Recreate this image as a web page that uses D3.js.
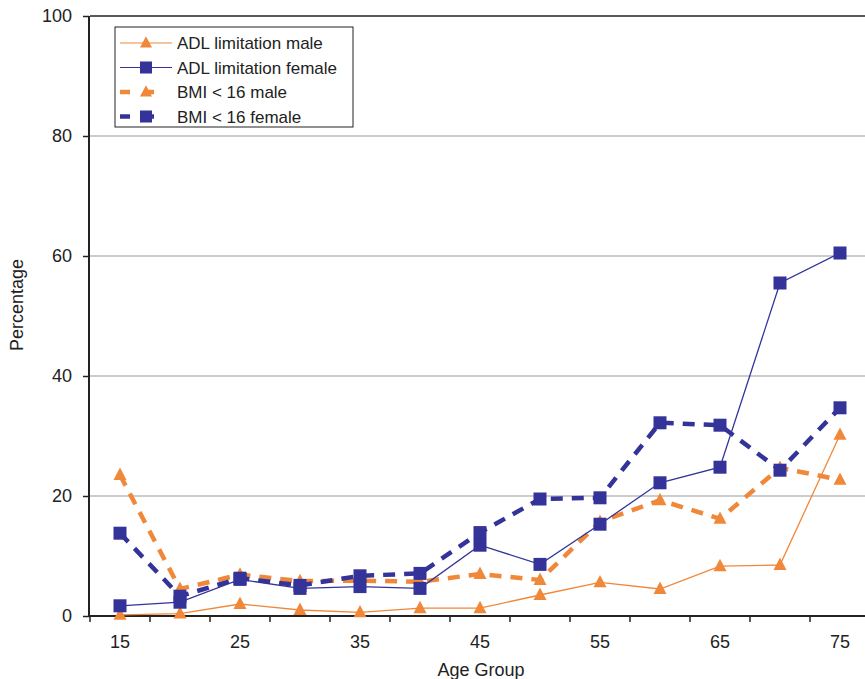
<!DOCTYPE html>
<html><head><meta charset="utf-8">
<script src="https://cdn.jsdelivr.net/npm/d3@7"></script>
<style>body{margin:0;background:#fff}svg{display:block;font-family:"Liberation Sans",Arial,sans-serif}</style>
</head><body><svg id="c" width="865" height="679"></svg>
<script>
const ages = [15,20,25,30,35,40,45,50,55,60,65,70,75];
const xTickLabels = [15,25,35,45,55,65,75];
const yTicks = [0,20,40,60,80,100];
const adlMale   = [0.2,0.4,2.0,1.0,0.6,1.3,1.3,3.5,5.6,4.5,8.3,8.5,30.2];
const adlFemale = [1.7,2.3,6.1,4.6,4.9,4.6,11.8,8.6,15.3,22.2,24.8,55.5,60.5];
const bmiMale   = [23.5,4.5,6.9,5.8,5.9,5.7,7.0,6.0,15.7,19.3,16.2,24.7,22.7];
const bmiFemale = [13.8,3.3,6.3,5.1,6.7,7.1,13.9,19.5,19.7,32.2,31.8,24.3,34.7];
const seriesNames = ["ADL limitation male","ADL limitation female","BMI < 16 male","BMI < 16 female"];

const ORANGE = "#F0883A", BLUE = "#333399";
const series = [
  {name:seriesNames[0], values:adlMale, color:ORANGE, dashed:false, marker:"tri"},
  {name:seriesNames[1], values:adlFemale, color:BLUE, dashed:false, marker:"sq"},
  {name:seriesNames[2], values:bmiMale, color:ORANGE, dashed:true, marker:"tri"},
  {name:seriesNames[3], values:bmiFemale, color:BLUE, dashed:true, marker:"sq"}
];

const svg = d3.select("#c");
const L = 90, R = 870, T = 16, B = 616;
const x = d3.scaleBand().domain(ages).range([L, R]);
const y = d3.scaleLinear().domain([0,100]).range([B, T]);
const cx = a => x(a) + x.bandwidth()/2;

// gridlines
svg.append("g").selectAll("line").data(yTicks.filter(t=>t>0 && t<100)).join("line")
  .attr("x1", L).attr("x2", R).attr("y1", d=>y(d)).attr("y2", d=>y(d))
  .attr("stroke", "#9a9a9a").attr("stroke-width", 1.2);
// top border
svg.append("line").attr("x1", L).attr("x2", R).attr("y1", y(100)).attr("y2", y(100))
  .attr("stroke", "#222").attr("stroke-width", 1.5);

// y axis
const yAx = svg.append("g").attr("transform", `translate(${L-1},0)`)
  .call(d3.axisLeft(y).tickValues(yTicks).tickSize(6).tickPadding(11));
yAx.select(".domain").attr("stroke", "#222").attr("stroke-width", 2).attr("d", `M-0,${T}V${B}`);
yAx.selectAll(".tick line").attr("stroke", "#222").attr("stroke-width", 1.5);
yAx.selectAll("text").attr("font-size", 18).attr("fill", "#222").attr("font-family", "Liberation Sans, Arial, sans-serif");

// x axis
const xAx = svg.append("g").attr("transform", `translate(0,${B})`);
xAx.append("line").attr("x1", L-2).attr("x2", R).attr("stroke", "#222").attr("stroke-width", 2);
const bounds = ages.map(a => x(a)).concat([R]);
xAx.selectAll("line.t").data(bounds).join("line").attr("class","t")
  .attr("x1", d=>d).attr("x2", d=>d).attr("y1", 0).attr("y2", 6)
  .attr("stroke", "#222").attr("stroke-width", 1.5);
xAx.selectAll("text").data(xTickLabels).join("text")
  .attr("x", d=>cx(d)).attr("y", 32).attr("text-anchor", "middle")
  .attr("font-size", 18).attr("fill", "#222").text(d=>d);

// axis titles
svg.append("text").attr("x", 481).attr("y", 676).attr("text-anchor","middle")
  .attr("font-size", 18).attr("fill", "#222").text("Age Group");
svg.append("text").attr("transform", "translate(23,305) rotate(-90)").attr("text-anchor","middle")
  .attr("font-size", 18).attr("fill", "#222").text("Percentage");

// lines
const line = d3.line().x((d,i)=>cx(ages[i])).y(d=>y(d));
function drawMarker(g, type, px, py, color, s) {
  if (type === "sq") {
    g.append("rect").attr("x", px - s/2).attr("y", py - s/2).attr("width", s).attr("height", s).attr("fill", color);
  } else {
    const h = s * 0.95;
    g.append("path").attr("d", `M${px},${py - h*0.6}L${px + s/2},${py + h*0.4}L${px - s/2},${py + h*0.4}Z`).attr("fill", color);
  }
}
const order = [2,3,0,1];
order.forEach(k => {
  const s = series[k];
  const g = svg.append("g");
  g.append("path").datum(s.values).attr("d", line).attr("fill","none")
    .attr("stroke", s.color).attr("stroke-width", s.dashed ? 4.5 : 1.3)
    .attr("stroke-dasharray", s.dashed ? "12,9" : null);
  s.values.forEach((v,i) => drawMarker(g, s.marker, cx(ages[i]), y(v), s.color, 13));
});

// legend
const lg = svg.append("g");
lg.append("rect").attr("x", 115).attr("y", 27).attr("width", 238).attr("height", 100)
  .attr("fill", "#fff").attr("stroke", "#222").attr("stroke-width", 1);
series.forEach((s,i) => {
  const ry = 43 + i*24.5;
  if (s.dashed) {
    lg.append("line").attr("x1", 120).attr("x2", 159).attr("y1", ry).attr("y2", ry)
      .attr("stroke", s.color).attr("stroke-width", 4.5).attr("stroke-dasharray", "10,14");
  } else {
    lg.append("line").attr("x1", 120).attr("x2", 172).attr("y1", ry).attr("y2", ry)
      .attr("stroke", s.color).attr("stroke-width", 1.2);
  }
  drawMarker(lg, s.marker, 146, ry, s.color, 12);
  lg.append("text").attr("x", 177).attr("y", ry + 6).attr("font-size", 17).attr("fill", "#222").text(s.name);
});
</script></body></html>
